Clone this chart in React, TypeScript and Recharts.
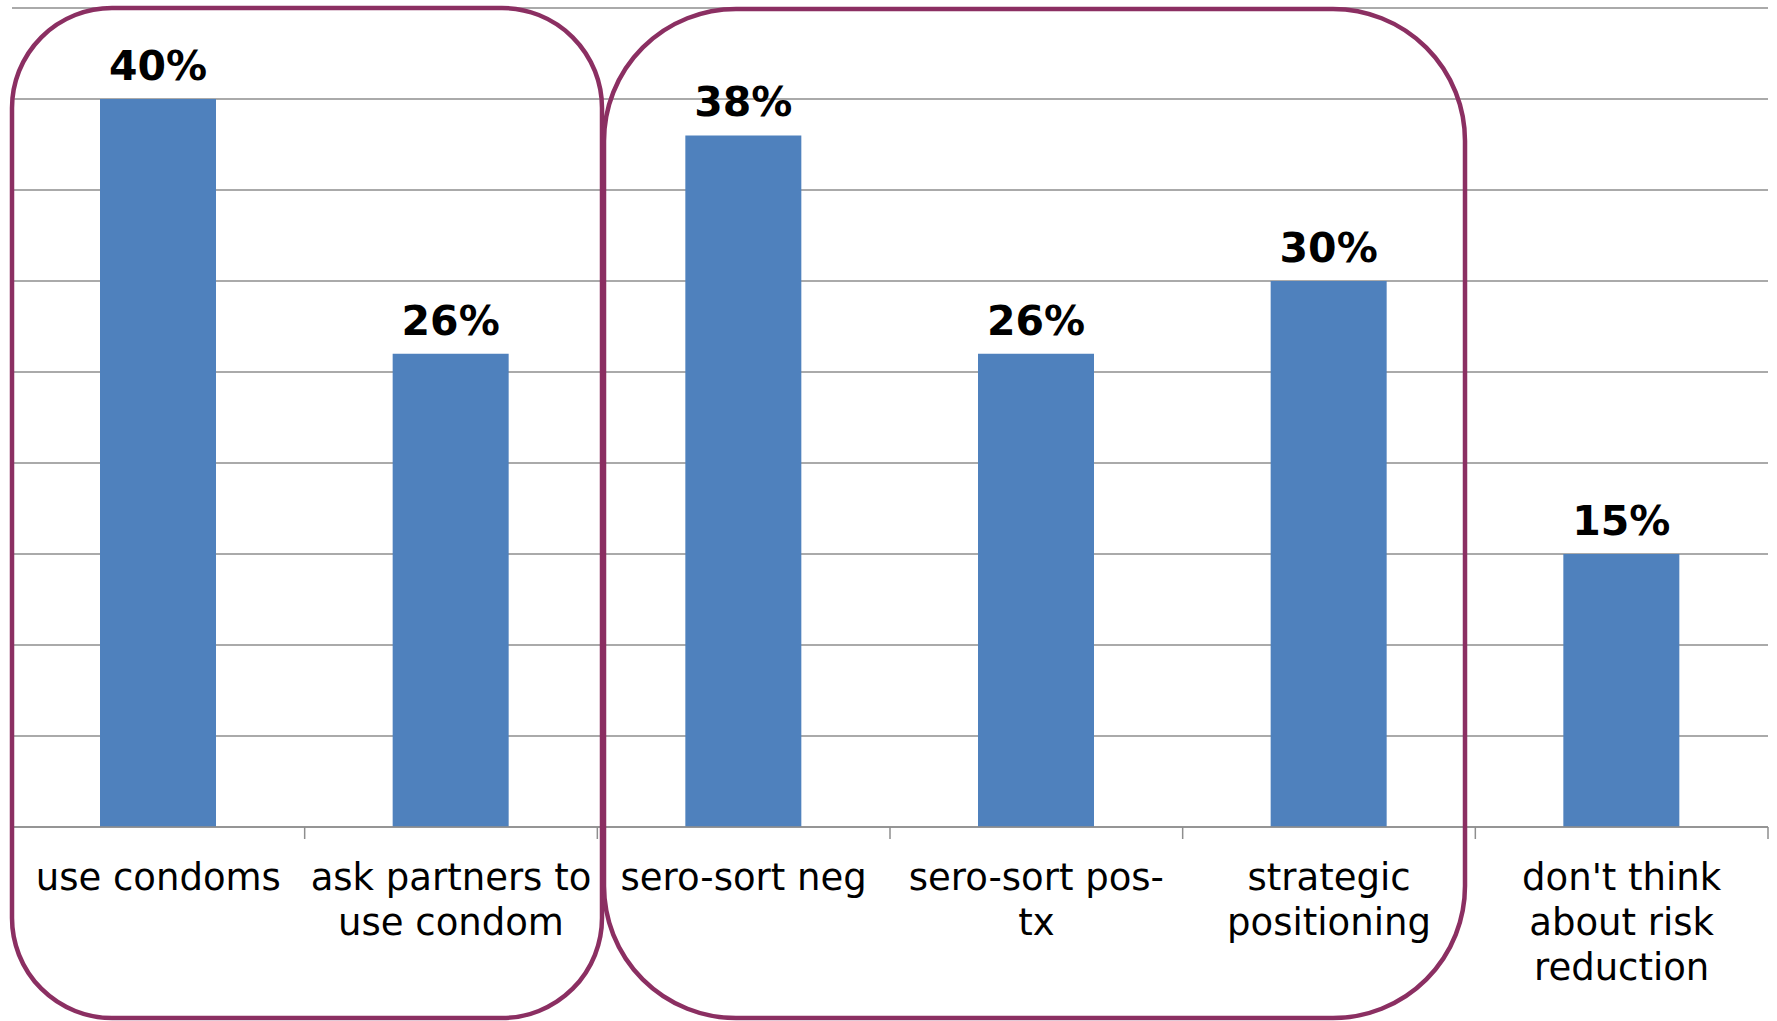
import React from "react";
import { BarChart, Bar, XAxis, YAxis, CartesianGrid, LabelList } from "recharts";

const categories = [
  "use condoms",
  "ask partners to\nuse condom",
  "sero-sort neg",
  "sero-sort pos-\ntx",
  "strategic\npositioning",
  "don't think\nabout risk\nreduction",
];
const percents = [40, 26, 38, 26, 30, 15];
const yTicks = [0, 5, 10, 15, 20, 25, 30, 35, 40, 45];

const data = categories.map((name, i) => ({ name, value: percents[i] }));

const W = 1777;
const H = 1021;
const GRID = "#8E8E8E";
const BOX = "#8B2F62";
const FONT = "'DejaVu Sans', Verdana, sans-serif";

// x tick: wrapped label + boundary tick marks between categories
const CategoryTick = (props: any) => {
  const { x, y, payload } = props;
  const half = payload.offset || 146.3;
  const lines = String(payload.value).split("\n");
  return (
    <g>
      <line x1={x + half} y1={y} x2={x + half} y2={y + 12} stroke={GRID} strokeWidth={1.5} />
      {payload.index === 0 && (
        <line x1={x - half} y1={y} x2={x - half} y2={y + 12} stroke={GRID} strokeWidth={1.5} />
      )}
      <text x={x} y={y + 63} textAnchor="middle" fontFamily={FONT} fontSize={37} fill="#000">
        {lines.map((l, i) => (
          <tspan key={i} x={x} dy={i === 0 ? 0 : 45}>
            {l}
          </tspan>
        ))}
      </text>
    </g>
  );
};

export default function App() {
  return (
    <div style={{ position: "absolute", left: 0, top: 0, width: W, height: H, background: "#fff" }}>
      <BarChart
        width={W}
        height={H}
        data={data}
        margin={{ top: 8, right: 9, left: 12, bottom: 0 }}
      >
        <CartesianGrid vertical={false} stroke={GRID} strokeWidth={1.5} />
        <YAxis hide domain={[0, 45]} ticks={yTicks} width={0} />
        <XAxis
          dataKey="name"
          height={194}
          interval={0}
          tickSize={0}
          tickMargin={0}
          tickLine={false}
          axisLine={{ stroke: GRID, strokeWidth: 1.5 }}
          tick={<CategoryTick />}
        />
        <Bar dataKey="value" fill="#4F81BD" barSize={116} isAnimationActive={false}>
          <LabelList
            dataKey="value"
            position="top"
            offset={19}
            formatter={(v: any) => `${v}%`}
            style={{ fontFamily: FONT, fontSize: 41, fontWeight: "bold", fill: "#000" }}
          />
        </Bar>
      </BarChart>
      {/* grouping outlines */}
      <svg width={W} height={H} style={{ position: "absolute", left: 0, top: 0, pointerEvents: "none" }}>
        <rect x={12} y={8} width={590} height={1010} rx={100} ry={100} fill="none" stroke={BOX} strokeWidth={4.5} />
        <rect x={604} y={9} width={861} height={1009} rx={132} ry={132} fill="none" stroke={BOX} strokeWidth={4.5} />
      </svg>
    </div>
  );
}
